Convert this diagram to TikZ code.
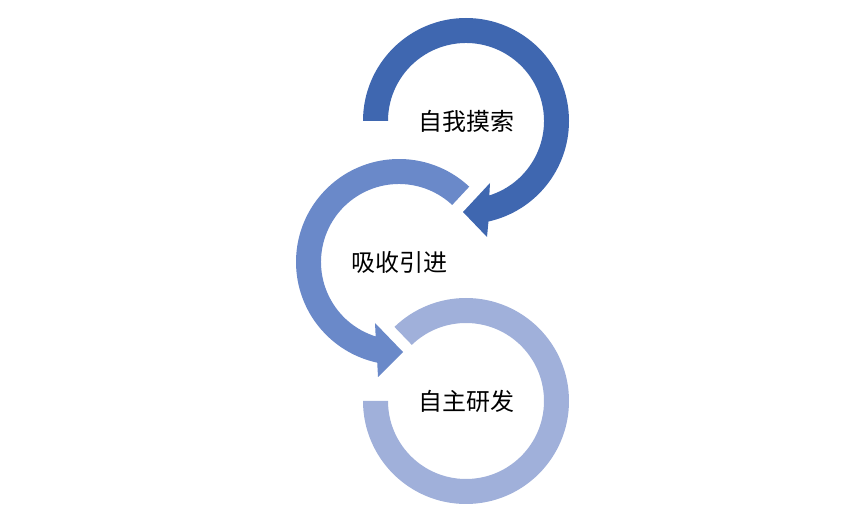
\documentclass[tikz,border=0pt]{standalone}
\usepackage{xcolor}
\usepackage{fontspec}
\newfontfamily\cjk{Noto Sans CJK SC}
\definecolor{ringdark}{RGB}{63,103,176}
\definecolor{ringmid}{RGB}{106,137,201}
\definecolor{ringlight}{RGB}{160,176,218}
\usetikzlibrary{positioning}

\begin{document}
\begin{tikzpicture}[
				x=1pt, y=1pt,
				ring/.style={draw=none},
				label/.style={font=\cjk\fontsize{24}{26}\selectfont, text=black},
			]
				\useasboundingbox (0,0) rectangle (865,506);
				\coordinate (explore) at (466,385);
				\coordinate (absorb) at (399,244);
				\coordinate (develop) at (466,105);
				
				\fill[ring, ringlight, shift={(develop)}] (-180:103) arc[start angle=-180, end angle=134, radius=103] -- (134:78) arc[start angle=134, end angle=-180, radius=78] -- cycle;
				\fill[ring, ringmid, shift={(absorb)}] (47:103) arc[start angle=47, end angle=257.8, radius=103] -- (-21,-115) -- (4,-90) -- (-24,-61) -- (252.6:78) arc[start angle=252.6, end angle=47, radius=78] -- cycle;
				\fill[ring, ringdark, shift={(explore)}] (180:103) arc[start angle=180, end angle=-77.4, radius=103] -- (21,-116) -- (-3,-91) -- (24,-62) -- (-72.6:78) arc[start angle=-72.6, end angle=180, radius=78] -- cycle;
				
				\node (exploretext) [label] at (explore) {自我摸索};
				\node (absorbtext) [label] at (absorb) {吸收引进};
				\node (developtext) [label] at (develop) {自主研发};
			\end{tikzpicture}
\end{document}
